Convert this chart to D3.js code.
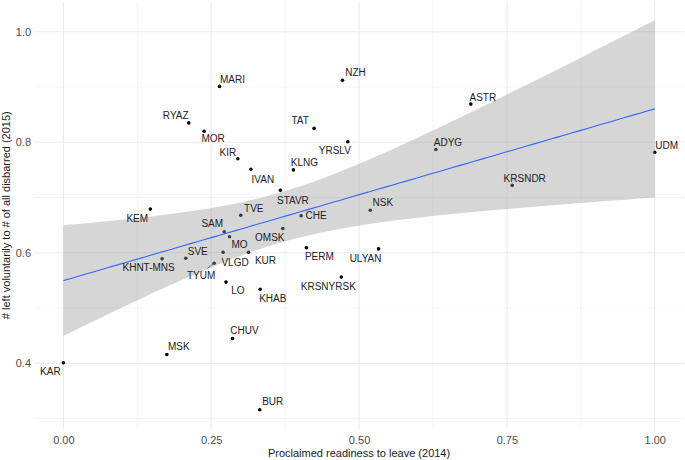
<!DOCTYPE html>
<html>
<head>
<meta charset="utf-8">
<script src="https://cdn.jsdelivr.net/npm/d3@7"></script>
<style>
  html, body { margin: 0; padding: 0; background: #fff; }
  svg { display: block; font-family: "Liberation Sans", Arial, Helvetica, sans-serif; }
</style>
</head>
<body>
<svg id="chart" width="685" height="460"></svg>
<script>
// ---- data ----
const regions = ["MARI","NZH","RYAZ","ASTR","MOR","TAT","YRSLV","ADYG","UDM","KIR","KLNG","IVAN","KRSNDR","KEM","TVE","STAVR","NSK","CHE","SAM","OMSK","MO","SVE","KHNT-MNS","VLGD","KUR","PERM","ULYAN","TYUM","LO","KHAB","KRSNYRSK","CHUV","MSK","KAR","BUR"];
const readiness2014 = [0.264,0.472,0.212,0.689,0.238,0.424,0.481,0.630,1.000,0.295,0.389,0.317,0.759,0.147,0.300,0.367,0.519,0.402,0.272,0.371,0.281,0.207,0.167,0.270,0.313,0.411,0.533,0.255,0.275,0.333,0.470,0.286,0.175,0.000,0.332];
const leftVoluntarily2015 = [0.901,0.912,0.835,0.869,0.820,0.825,0.801,0.787,0.782,0.770,0.750,0.751,0.722,0.679,0.668,0.713,0.677,0.667,0.638,0.644,0.629,0.590,0.589,0.601,0.601,0.609,0.607,0.581,0.547,0.534,0.556,0.445,0.416,0.401,0.316];
const xTicks = [0, 0.25, 0.5, 0.75, 1.0];
const xTickLabels = ["0.00","0.25","0.50","0.75","1.00"];
const yTicks = [0.4, 0.6, 0.8, 1.0];
const yTickLabels = ["0.4","0.6","0.8","1.0"];
const xMinorTicks = [0.125, 0.375, 0.625, 0.875];
const yMinorTicks = [0.3, 0.5, 0.7, 0.9];
const xTitle = "Proclaimed readiness to leave (2014)";
const yTitle = "# left voluntarily to # of all disbarred (2015)";

// label placement (pixel nudges, repel-like), separate from data
const labelNudge = {
  "MARI":[13,-7],"NZH":[13,-8],"RYAZ":[-13,-7],"ASTR":[12,-7],"MOR":[9,7],"TAT":[-14,-8],
  "YRSLV":[-13,9],"ADYG":[12,-7],"UDM":[12,-7],"KIR":[-10,-6],"KLNG":[11,-7],"IVAN":[12,10],
  "KRSNDR":[12.5,-7],"KEM":[-13,9],"TVE":[13,-7],"STAVR":[12.5,10],"NSK":[12.5,-8],"CHE":[15,0],
  "SAM":[-12,-8],"OMSK":[-13,9],"MO":[10,8],"SVE":[12,-7],"KHNT-MNS":[-13.5,9],"VLGD":[12,10],
  "KUR":[17,8],"PERM":[13,9],"ULYAN":[-13,9],"TYUM":[-13,12],"LO":[12,8],"KHAB":[12.5,9],
  "KRSNYRSK":[-13,9],"CHUV":[12,-8],"MSK":[12,-8],"KAR":[-13,9],"BUR":[13,-8]
};
const segmentLabels = ["TYUM"];

// ---- layout ----
const svg = d3.select("#chart");
const x = d3.scaleLinear().domain([-0.05, 1.05]).range([33.8, 684.3]);
const y = d3.scaleLinear().domain([0.281, 1.055]).range([429.1, 1.3]);
const [px0, px1] = x.range();
const [py0, py1] = y.range();

// grid
const grid = svg.append("g");
grid.selectAll(".xminor").data(xMinorTicks).join("line")
  .attr("x1", d => x(d)).attr("x2", d => x(d)).attr("y1", py1).attr("y2", py0)
  .attr("stroke", "#ebebeb").attr("stroke-width", 0.6);
grid.selectAll(".yminor").data(yMinorTicks).join("line")
  .attr("y1", d => y(d)).attr("y2", d => y(d)).attr("x1", px0).attr("x2", px1)
  .attr("stroke", "#ebebeb").attr("stroke-width", 0.6);
grid.selectAll(".xmajor").data(xTicks).join("line")
  .attr("x1", d => x(d)).attr("x2", d => x(d)).attr("y1", py1).attr("y2", py0)
  .attr("stroke", "#ebebeb").attr("stroke-width", 1.1);
grid.selectAll(".ymajor").data(yTicks).join("line")
  .attr("y1", d => y(d)).attr("y2", d => y(d)).attr("x1", px0).attr("x2", px1)
  .attr("stroke", "#ebebeb").attr("stroke-width", 1.1);

// points data
const pts = regions.map((r, i) => ({ name: r, x: readiness2014[i], y: leftVoluntarily2015[i] }));

// points
svg.append("g").selectAll("circle").data(pts).join("circle")
  .attr("cx", d => x(d.x)).attr("cy", d => y(d.y)).attr("r", 1.8).attr("fill", "#000");

// linear model fit with 95% CI (as geom_smooth(method="lm"))
const n = pts.length;
const mx = d3.mean(pts, d => d.x), my = d3.mean(pts, d => d.y);
const sxx = d3.sum(pts, d => (d.x - mx) ** 2);
const sxy = d3.sum(pts, d => (d.x - mx) * (d.y - my));
const b1 = sxy / sxx, b0 = my - b1 * mx;
const sse = d3.sum(pts, d => (d.y - (b0 + b1 * d.x)) ** 2);
const s = Math.sqrt(sse / (n - 2));
const tcrit = 2.0345; // t(0.975, df=33)
const xExt = d3.extent(pts, d => d.x);
const fit = d3.range(80).map(i => {
  const xv = xExt[0] + (xExt[1] - xExt[0]) * i / 79;
  const yv = b0 + b1 * xv;
  const se = s * Math.sqrt(1 / n + (xv - mx) ** 2 / sxx);
  return { x: xv, y: yv, lo: yv - tcrit * se, hi: yv + tcrit * se };
});
svg.append("path").datum(fit)
  .attr("d", d3.area().x(d => x(d.x)).y0(d => y(d.lo)).y1(d => y(d.hi)))
  .attr("fill", "#999999").attr("fill-opacity", 0.4);
svg.append("path").datum(fit)
  .attr("d", d3.line().x(d => x(d.x)).y(d => y(d.y)))
  .attr("fill", "none").attr("stroke", "#3366FF").attr("stroke-width", 1.1);

// label segments
svg.append("g").selectAll("line").data(pts.filter(d => segmentLabels.includes(d.name))).join("line")
  .attr("x1", d => x(d.x)).attr("y1", d => y(d.y))
  .attr("x2", d => x(d.x) + labelNudge[d.name][0] * 0.55)
  .attr("y2", d => y(d.y) + labelNudge[d.name][1] * 0.45)
  .attr("stroke", "#555").attr("stroke-width", 0.7);

// labels
svg.append("g").selectAll("text").data(pts).join("text")
  .attr("x", d => x(d.x) + labelNudge[d.name][0])
  .attr("y", d => y(d.y) + labelNudge[d.name][1])
  .attr("text-anchor", "middle").attr("dy", "0.36em")
  .attr("font-size", 10).attr("fill", "#222")
  .text(d => d.name);

// axes
const xAxis = d3.axisBottom(x).tickValues(xTicks).tickSize(0).tickPadding(0)
  .tickFormat((d, i) => xTickLabels[i]);
const gx = svg.append("g").attr("transform", `translate(0,${py0 + 14.5})`).call(xAxis);
gx.select(".domain").remove();
gx.selectAll("text").attr("font-size", 11).attr("fill", "#4d4d4d").attr("dy", "0.05em")
  .attr("font-family", "Liberation Sans, Arial, sans-serif");

const yAxis = d3.axisLeft(y).tickValues(yTicks).tickSize(0).tickPadding(0)
  .tickFormat((d, i) => yTickLabels[i]);
const gy = svg.append("g").attr("transform", `translate(31,0)`).call(yAxis);
gy.select(".domain").remove();
gy.selectAll("text").attr("font-size", 11).attr("fill", "#4d4d4d")
  .attr("font-family", "Liberation Sans, Arial, sans-serif");

// axis titles
svg.append("text").attr("x", (px0 + px1) / 2).attr("y", 457)
  .attr("text-anchor", "middle").attr("font-size", 11).attr("fill", "#1a1a1a").text(xTitle);
svg.append("text").attr("transform", `translate(10,${(py0 + py1) / 2}) rotate(-90)`)
  .attr("text-anchor", "middle").attr("font-size", 11).attr("fill", "#1a1a1a").text(yTitle);
</script>
</body>
</html>
